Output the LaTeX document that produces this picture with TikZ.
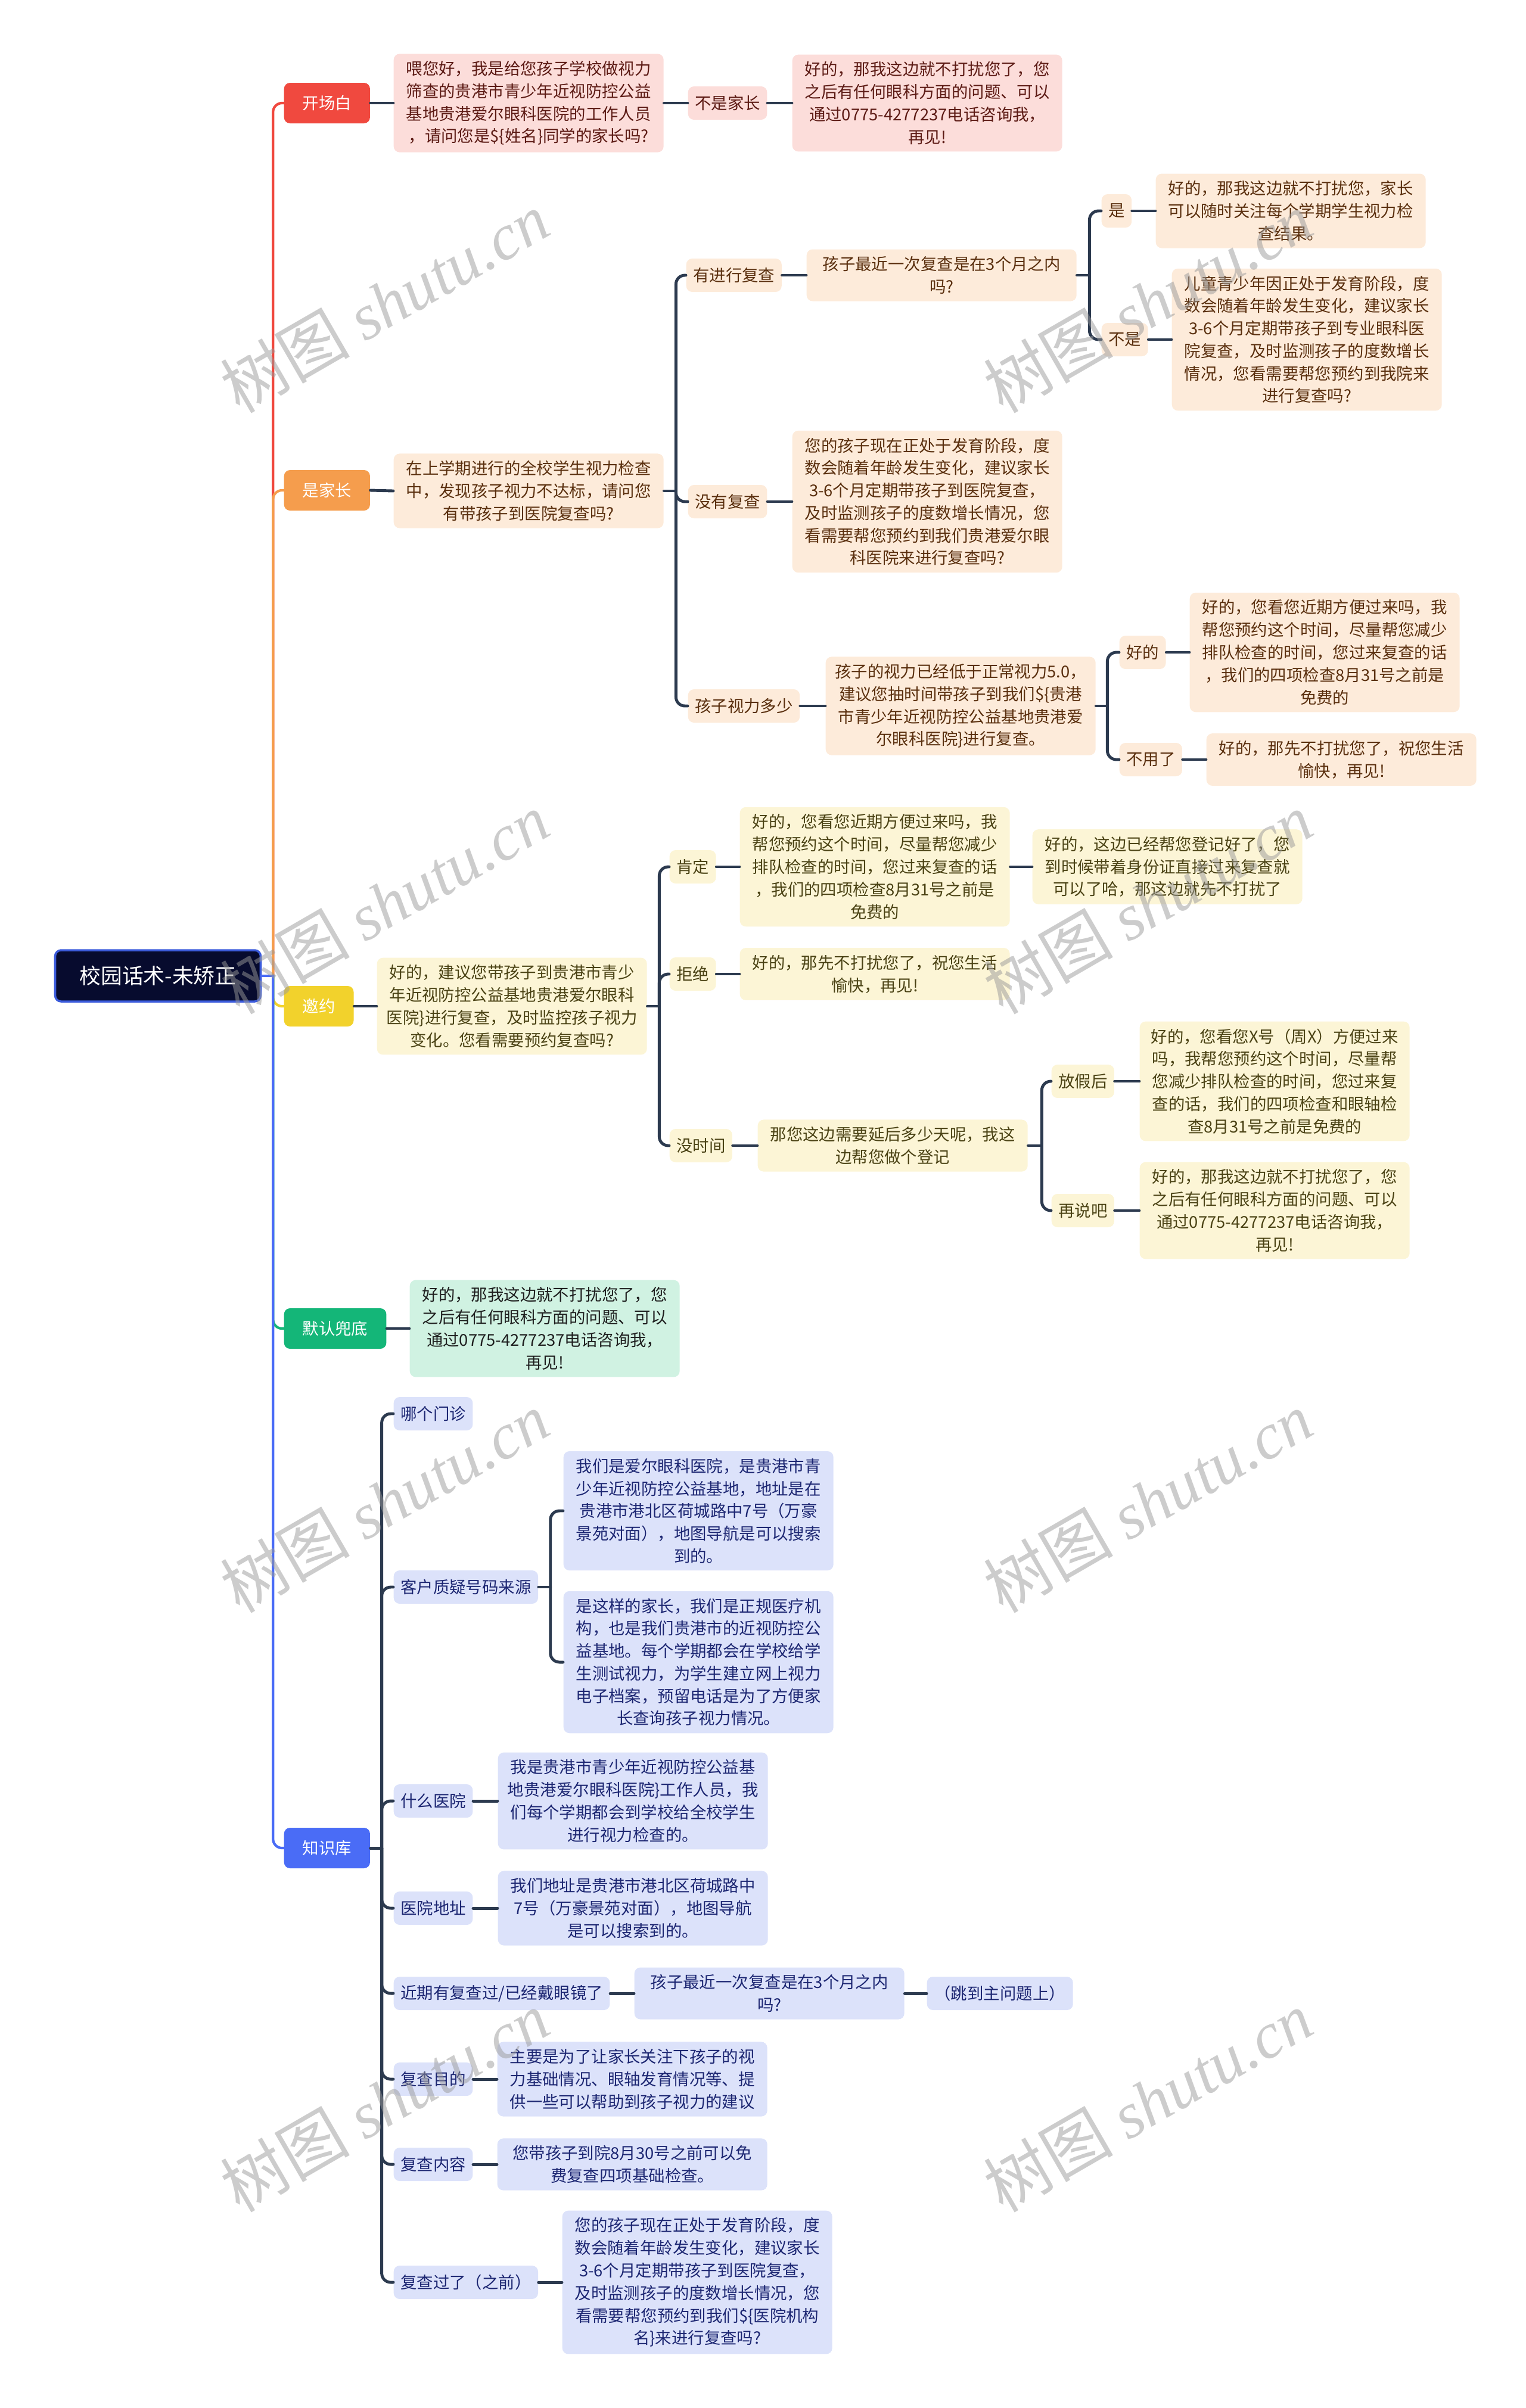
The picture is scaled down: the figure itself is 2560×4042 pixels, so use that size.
\documentclass[tikz,border=0pt]{standalone}
\usepackage{fontspec}
\setmainfont{Noto Sans CJK SC}
\newfontfamily\wmserif{Liberation Serif}
\usetikzlibrary{positioning}
\definecolor{redm}{HTML}{F0493F}
\definecolor{orgm}{HTML}{F59D4D}
\definecolor{yelm}{HTML}{F2D22C}
\definecolor{grnm}{HTML}{14B678}
\definecolor{blum}{HTML}{4A6CF6}
\definecolor{rootbg}{HTML}{070B2E}
\definecolor{rootbd}{HTML}{3B5BDB}
\definecolor{pkbg}{HTML}{FCDDDA}
\definecolor{pktx}{HTML}{5C1A14}
\definecolor{orbg}{HTML}{FDEBDA}
\definecolor{ortx}{HTML}{5A2F0E}
\definecolor{ylbg}{HTML}{FCF5D6}
\definecolor{yltx}{HTML}{4A4214}
\definecolor{gnbg}{HTML}{D0F2E2}
\definecolor{gntx}{HTML}{1E1E1E}
\definecolor{blbg}{HTML}{DCE2FA}
\definecolor{bltx}{HTML}{1C2672}
\definecolor{linkc}{HTML}{2C3A4F}
\begin{document}
\begin{tikzpicture}[x=0.1mm, y=-0.1mm, font=\fontsize{7.8pt}{10.75pt}\selectfont, line join=round, line cap=round,
  box/.style={rounded corners=0.1cm, anchor=west, align=center, inner ysep=0.12cm},
  tbox/.style={box, minimum width=4.53cm, inner xsep=0.15cm},
  lbox/.style={box, minimum height=0.56cm, inner xsep=0.115cm},
  mbox/.style={box, minimum height=0.68cm, inner xsep=0.31cm, text=white},
  pk/.style={fill=pkbg, text=pktx},
  og/.style={fill=orbg, text=ortx},
  yl/.style={fill=ylbg, text=yltx},
  gn/.style={fill=gnbg, text=gntx},
  bl/.style={fill=blbg, text=bltx},
  link/.style={draw=linkc, line width=1.4pt, rounded corners=0.15cm},
  mlink/.style={line width=1.2pt, rounded corners=0.15cm},
  wm/.style={text=black!40, text opacity=0.5, rotate=30, font=\fontsize{31pt}{31pt}\selectfont}]
\useasboundingbox (0,0) rectangle (2560,4042);
% root and main branches
\node[rounded corners=0.1cm, fill=rootbg, draw=rootbd, line width=1pt, text=white, minimum width=3.45cm, minimum height=0.86cm, font=\fontsize{10.2pt}{12pt}\selectfont] (root) at (265,1638) {校园话术-未矫正};
\node[mbox, fill=redm] (kcb) at (476,173) {开场白};
\node[mbox, fill=orgm] (sjz) at (476,823) {是家长};
\node[mbox, fill=yelm] (yy) at (476,1689) {邀约};
\node[mbox, fill=grnm] (mr) at (476,2230) {默认兜底};
\node[mbox, fill=blum] (zsk) at (476,3102) {知识库};
\coordinate (ms) at ([xshift=0.19cm]root.east);
\draw[mlink, draw=redm] (ms) |- (kcb.west);
\draw[mlink, draw=orgm] (ms) |- (sjz.west);
\draw[mlink, draw=yelm] (ms) |- (yy.west);
\draw[mlink, draw=grnm] (ms) |- (mr.west);
\draw[mlink, draw=blum] (ms) |- (zsk.west);
\draw[mlink, draw=blum] (root.east) -- (ms);

% 开场白
\node[tbox, pk] (q1) at (660,173) {喂您好，我是给您孩子学校做视力\\筛查的贵港市青少年近视防控公益\\基地贵港爱尔眼科医院的工作人员\\，请问您是\$\{姓名\}同学的家长吗?};
\node[lbox, pk] (l1) at (1154,173) {不是家长};
\node[tbox, pk] (a1) at (1329,173) {好的，那我这边就不打扰您了，您\\之后有任何眼科方面的问题、可以\\通过0775-4277237电话咨询我，\\再见!};
\draw[link] (kcb.east) -- (q1.west);
\draw[link] (q1.east) -- (l1.west);
\draw[link] (l1.east) -- (a1.west);

% 是家长
\node[tbox, og] (q2) at (660,824) {在上学期进行的全校学生视力检查\\中，发现孩子视力不达标，请问您\\有带孩子到医院复查吗?};
\node[lbox, og] (l21) at (1151,462) {有进行复查};
\node[tbox, og] (t21) at (1353,462) {孩子最近一次复查是在3个月之内\\吗?};
\node[lbox, og] (l211) at (1848,354) {是};
\node[tbox, og] (a211) at (1939,354) {好的，那我这边就不打扰您，家长\\可以随时关注每个学期学生视力检\\查结果。};
\node[lbox, og] (l212) at (1848,570) {不是};
\node[tbox, og] (a212) at (1966,570) {儿童青少年因正处于发育阶段，度\\数会随着年龄发生变化，建议家长\\3-6个月定期带孩子到专业眼科医\\院复查，及时监测孩子的度数增长\\情况，您看需要帮您预约到我院来\\进行复查吗?};
\node[lbox, og] (l22) at (1154,842) {没有复查};
\node[tbox, og] (a22) at (1329,842) {您的孩子现在正处于发育阶段，度\\数会随着年龄发生变化，建议家长\\3-6个月定期带孩子到医院复查，\\及时监测孩子的度数增长情况，您\\看需要帮您预约到我们贵港爱尔眼\\科医院来进行复查吗?};
\node[lbox, og] (l23) at (1154,1185) {孩子视力多少};
\node[tbox, og] (t23) at (1385,1185) {孩子的视力已经低于正常视力5.0，\\建议您抽时间带孩子到我们\$\{贵港\\市青少年近视防控公益基地贵港爱\\尔眼科医院\}进行复查。};
\node[lbox, og] (l231) at (1878,1095) {好的};
\node[tbox, og] (a231) at (1996,1095) {好的，您看您近期方便过来吗，我\\帮您预约这个时间，尽量帮您减少\\排队检查的时间，您过来复查的话\\，我们的四项检查8月31号之前是\\免费的};
\node[lbox, og] (l232) at (1878,1275) {不用了};
\node[tbox, og] (a232) at (2024,1275) {好的，那先不打扰您了，祝您生活\\愉快，再见!};
\draw[link] (sjz.east) -- (q2.west);
\coordinate (s2) at ([xshift=0.2cm]q2.east);
\draw[link] (q2.east) -- (s2);
\foreach \c in {l21,l22,l23} \draw[link] (s2) |- (\c.west);
\draw[link] (l21.east) -- (t21.west);
\coordinate (s21) at ([xshift=0.21cm]t21.east);
\draw[link] (t21.east) -- (s21);
\foreach \c in {l211,l212} \draw[link] (s21) |- (\c.west);
\draw[link] (l211.east) -- (a211.west);
\draw[link] (l212.east) -- (a212.west);
\draw[link] (l22.east) -- (a22.west);
\draw[link] (l23.east) -- (t23.west);
\coordinate (s23) at ([xshift=0.19cm]t23.east);
\draw[link] (t23.east) -- (s23);
\foreach \c in {l231,l232} \draw[link] (s23) |- (\c.west);
\draw[link] (l231.east) -- (a231.west);
\draw[link] (l232.east) -- (a232.west);

% 邀约
\node[tbox, yl] (q3) at (632,1689) {好的，建议您带孩子到贵港市青少\\年近视防控公益基地贵港爱尔眼科\\医院\}进行复查，及时监控孩子视力\\变化。您看需要预约复查吗?};
\node[lbox, yl] (l31) at (1123,1455) {肯定};
\node[tbox, yl] (a31) at (1241,1455) {好的，您看您近期方便过来吗，我\\帮您预约这个时间，尽量帮您减少\\排队检查的时间，您过来复查的话\\，我们的四项检查8月31号之前是\\免费的};
\node[tbox, yl] (a311) at (1732,1455) {好的，这边已经帮您登记好了，您\\到时候带着身份证直接过来复查就\\可以了哈，那这边就先不打扰了};
\node[lbox, yl] (l32) at (1123,1635) {拒绝};
\node[tbox, yl] (a32) at (1241,1635) {好的，那先不打扰您了，祝您生活\\愉快，再见!};
\node[lbox, yl] (l33) at (1123,1923) {没时间};
\node[tbox, yl] (t33) at (1271,1923) {那您这边需要延后多少天呢，我这\\边帮您做个登记};
\node[lbox, yl] (l331) at (1764,1815) {放假后};
\node[tbox, yl] (a331) at (1912,1815) {好的，您看您X号（周X）方便过来\\吗，我帮您预约这个时间，尽量帮\\您减少排队检查的时间，您过来复\\查的话，我们的四项检查和眼轴检\\查8月31号之前是免费的};
\node[lbox, yl] (l332) at (1764,2032) {再说吧};
\node[tbox, yl] (a332) at (1912,2032) {好的，那我这边就不打扰您了，您\\之后有任何眼科方面的问题、可以\\通过0775-4277237电话咨询我，\\再见!};
\draw[link] (yy.east) -- (q3.west);
\coordinate (s3) at ([xshift=0.2cm]q3.east);
\draw[link] (q3.east) -- (s3);
\foreach \c in {l31,l32,l33} \draw[link] (s3) |- (\c.west);
\draw[link] (l31.east) -- (a31.west);
\draw[link] (a31.east) -- (a311.west);
\draw[link] (l32.east) -- (a32.west);
\draw[link] (l33.east) -- (t33.west);
\coordinate (s33) at ([xshift=0.23cm]t33.east);
\draw[link] (t33.east) -- (s33);
\foreach \c in {l331,l332} \draw[link] (s33) |- (\c.west);
\draw[link] (l331.east) -- (a331.west);
\draw[link] (l332.east) -- (a332.west);

% 默认兜底
\node[tbox, gn] (a4) at (687,2230) {好的，那我这边就不打扰您了，您\\之后有任何眼科方面的问题、可以\\通过0775-4277237电话咨询我，\\再见!};
\draw[link] (mr.east) -- (a4.west);

% 知识库
\node[lbox, bl] (l51) at (660,2373) {哪个门诊};
\node[lbox, bl] (l52) at (660,2664) {客户质疑号码来源};
\node[tbox, bl] (a521) at (945,2536) {我们是爱尔眼科医院，是贵港市青\\少年近视防控公益基地，地址是在\\贵港市港北区荷城路中7号（万豪\\景苑对面），地图导航是可以搜索\\到的。};
\node[tbox, bl] (a522) at (945,2790) {是这样的家长，我们是正规医疗机\\构，也是我们贵港市的近视防控公\\益基地。每个学期都会在学校给学\\生测试视力，为学生建立网上视力\\电子档案，预留电话是为了方便家\\长查询孩子视力情况。};
\node[lbox, bl] (l53) at (660,3023) {什么医院};
\node[tbox, bl] (a53) at (835,3023) {我是贵港市青少年近视防控公益基\\地贵港爱尔眼科医院\}工作人员，我\\们每个学期都会到学校给全校学生\\进行视力检查的。};
\node[lbox, bl] (l54) at (660,3203) {医院地址};
\node[tbox, bl] (a54) at (835,3203) {我们地址是贵港市港北区荷城路中\\7号（万豪景苑对面），地图导航\\是可以搜索到的。};
\node[lbox, bl] (l55) at (660,3346) {近期有复查过/已经戴眼镜了};
\node[tbox, bl] (t55) at (1064,3346) {孩子最近一次复查是在3个月之内\\吗?};
\node[lbox, bl, minimum width=2.45cm] (l551) at (1555,3346) {（跳到主问题上）};
\node[lbox, bl] (l56) at (660,3490) {复查目的};
\node[tbox, bl] (a56) at (834,3490) {主要是为了让家长关注下孩子的视\\力基础情况、眼轴发育情况等、提\\供一些可以帮助到孩子视力的建议};
\node[lbox, bl] (l57) at (660,3633) {复查内容};
\node[tbox, bl] (a57) at (834,3633) {您带孩子到院8月30号之前可以免\\费复查四项基础检查。};
\node[lbox, bl] (l58) at (660,3831) {复查过了（之前）};
\node[tbox, bl] (a58) at (943,3831) {您的孩子现在正处于发育阶段，度\\数会随着年龄发生变化，建议家长\\3-6个月定期带孩子到医院复查，\\及时监测孩子的度数增长情况，您\\看需要帮您预约到我们\$\{医院机构\\名\}来进行复查吗?};
\coordinate (s5) at ([xshift=0.19cm]zsk.east);
\draw[link] (zsk.east) -- (s5);
\foreach \c in {l51,l52,l53,l54,l55,l56,l57,l58} \draw[link] (s5) |- (\c.west);
\coordinate (s52) at ([xshift=0.2cm]l52.east);
\draw[link] (l52.east) -- (s52);
\foreach \c in {a521,a522} \draw[link] (s52) |- (\c.west);
\draw[link] (l53.east) -- (a53.west);
\draw[link] (l54.east) -- (a54.west);
\draw[link] (l55.east) -- (t55.west);
\draw[link] (t55.east) -- (l551.west);
\draw[link] (l56.east) -- (a56.west);
\draw[link] (l57.east) -- (a57.west);
\draw[link] (l58.east) -- (a58.west);

% watermarks
\foreach \wy in {508,1516,2521,3527}
  \foreach \wx in {645,1926}
    \node[wm] at (\wx,\wy) {树图 {\wmserif\itshape shutu.cn}};
\end{tikzpicture}
\end{document}
